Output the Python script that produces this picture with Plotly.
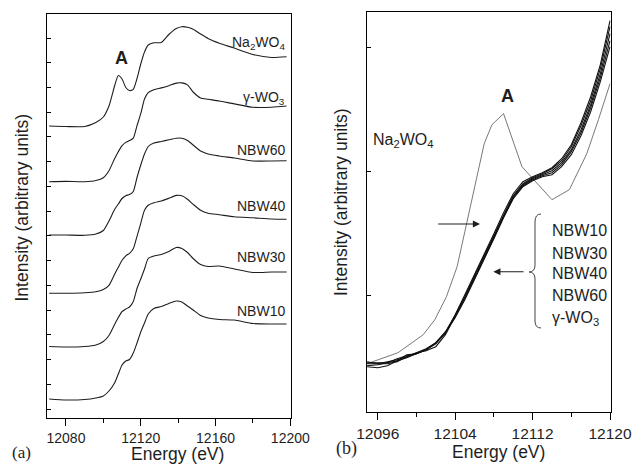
import plotly.graph_objects as go

# ---------------- Panel (a): stacked W L3-edge XANES spectra ----------------
ENERGY_A = [12071, 12080, 12090, 12096, 12100, 12103, 12106, 12108, 12110, 12112,
            12114, 12116, 12118, 12120, 12122, 12124, 12127, 12131, 12135, 12139,
            12142, 12145, 12148, 12152, 12156, 12162, 12170, 12180, 12190, 12198]

NA2WO4_A = [0, -0.5, -0.5, 3.5, 9, 20, 40, 50.5, 47, 38.5,
            35.5, 36.7, 47.5, 62, 74, 81, 83.2, 83.5, 91.5, 97.5,
            99.3, 98.8, 96.8, 92, 87.5, 82.8, 77.9, 71.5, 68.5, 69.3]
GWO3_A = [0, 0.3, 0, 1.2, 4, 11, 23, 30, 36, 39.3,
          41.2, 43.5, 56, 68, 82.7, 89, 92, 93.8, 96, 98.6,
          98.8, 96.8, 89.7, 83.8, 82.5, 80.7, 77.8, 74.4, 74.5, 75.7]
NBW60_A = [0, 0, -0.3, 1, 4.5, 14, 25.5, 31, 36.5, 39.3,
           40.5, 43.5, 57.5, 70, 81, 88.5, 92, 93.5, 95.2, 96.8,
           96.8, 94.5, 90, 84, 81, 79, 77, 74, 74, 74.3]
NBW40_A = [0, 0, 0.5, 1.5, 3.8, 8, 19, 26, 33, 37.5,
           40, 44.5, 57, 70, 83, 88, 90.5, 92.3, 95, 97.9,
           97.5, 94, 89, 83, 80, 78.6, 76.5, 75.5, 74.3, 74]
NBW30_A = [0, -0.5, 0, 1.5, 5, 11, 22, 29, 35, 37.5,
           39.5, 45, 58, 67.5, 77.5, 88, 90.5, 92, 95, 99,
           98, 94, 88, 82, 80, 80.5, 77.5, 74, 74.5, 74.5]
NBW10_A = [0, -1, -0.5, 1, 3, 8, 16, 25, 34, 38,
           39.5, 46, 56, 67, 76, 85, 90.5, 92.5, 95.5, 98,
           97, 93, 89, 83.5, 81, 79.5, 79, 75.5, 75, 75]

SERIES_A = [NA2WO4_A, GWO3_A, NBW60_A, NBW40_A, NBW30_A, NBW10_A]
NAMES_A = ["Na<sub>2</sub>WO<sub>4</sub>", "\u03b3-WO<sub>3</sub>", "NBW60", "NBW40", "NBW30", "NBW10"]
OFFSETS_A = [292.3, 236.6, 183.3, 125.0, 71.8, 19.3]

# ---------------- Panel (b): pre-edge region, curves overlaid ----------------
ENERGY_NA_B = [12094.9, 12096.8, 12098.1, 12100.7, 12101.9, 12103.1, 12104.2, 12105.0,
               12106.0, 12107.0, 12107.8, 12109.0, 12110.9, 12114.0, 12115.8, 12117.6,
               12118.8, 12120.0]
NA2WO4_B = [55, 62, 66, 84, 99, 122, 152, 187, 231, 275, 294, 305, 252, 219, 229, 265, 299, 335]

ENERGY_B = [12094.9, 12096, 12097, 12098, 12099, 12100, 12101, 12102, 12103, 12104,
            12105, 12106, 12107, 12108, 12109, 12110, 12111, 12112, 12113, 12114,
            12115, 12116, 12117, 12118, 12119, 12120]
NBW10_B = [53, 54, 56, 60, 63, 65, 69, 75, 86, 104, 124, 144, 164, 185, 206, 225, 237, 242, 246, 251, 260, 274, 296, 322, 354, 398]
NBW30_B = [55, 55, 57, 59, 62, 66, 70, 76, 87, 103, 122, 143, 163, 183, 204, 223, 235, 241, 245, 250, 258, 272, 293, 318, 350, 392]
NBW40_B = [56, 56, 56, 58, 61, 65, 69, 75, 86, 103, 121, 141, 161, 182, 203, 222, 234, 240, 244, 248, 256, 269, 289, 314, 345, 385]
NBW60_B = [57, 55, 55, 57, 62, 66, 68, 72, 84, 102, 121, 140, 160, 181, 202, 221, 233, 239, 243, 246, 254, 267, 286, 311, 341, 378]
GWO3_B = [52, 51, 53, 58, 64, 65, 69, 76, 86, 101, 119, 139, 159, 180, 201, 220, 232, 238, 242, 244, 252, 264, 283, 307, 337, 372]
SERIES_B = [NBW10_B, NBW30_B, NBW40_B, NBW60_B, GWO3_B]
NAMES_B = ["NBW10", "NBW30", "NBW40", "NBW60", "\u03b3-WO<sub>3</sub>"]

W, H = 634, 471
SANS = "Liberation Sans, Arial, sans-serif"
SERIF = "Liberation Serif, Times New Roman, serif"
INK = "#1e1e1e"


def P(px, py):
    """Pixel position on the page -> paper coordinates."""
    return px / W, 1 - py / H


fig = go.Figure()

for vals, off in zip(SERIES_A, OFFSETS_A):
    fig.add_trace(go.Scatter(
        x=ENERGY_A, y=[v + off for v in vals], mode="lines",
        line=dict(color=INK, width=1.1, shape="spline", smoothing=0.6),
        xaxis="x", yaxis="y", showlegend=False, hoverinfo="skip"))

fig.add_trace(go.Scatter(
    x=ENERGY_NA_B, y=NA2WO4_B, mode="lines",
    line=dict(color="#555555", width=0.8),
    xaxis="x2", yaxis="y2", showlegend=False, hoverinfo="skip"))
for vals in SERIES_B:
    fig.add_trace(go.Scatter(
        x=ENERGY_B, y=vals, mode="lines",
        line=dict(color="#111111", width=1.1),
        xaxis="x2", yaxis="y2", showlegend=False, hoverinfo="skip"))

axis_common = dict(showline=True, linecolor="black", linewidth=1, mirror=True,
                   showgrid=False, zeroline=False, automargin=False)

fig.update_layout(
    template="none",
    width=W, height=H, margin=dict(l=0, r=0, t=0, b=0, pad=0),
    paper_bgcolor="white", plot_bgcolor="white", showlegend=False,
    font=dict(family=SANS, color=INK),
    xaxis=dict(domain=[46.7 / W, 290.7 / W], range=[12069.7, 12200.2], anchor="y",
               tick0=12080, dtick=40, tickformat="d", ticks="outside", ticklen=7, tickcolor="black",
               minor=dict(ticks="outside", ticklen=4, dtick=20, tick0=12080, tickcolor="black"),
               tickfont=dict(size=14, family=SANS, color=INK), **axis_common),
    yaxis=dict(domain=[1 - 418.3 / H, 1 - 14.3 / H], range=[0, 404], anchor="x",
               tick0=9.3, dtick=24.73, ticks="inside", ticklen=4, tickcolor="black",
               showticklabels=False, **axis_common),
    xaxis2=dict(domain=[366.7 / W, 610.7 / W], range=[12094.86, 12120.07], anchor="y2",
                tick0=12096, dtick=8, tickformat="d", ticks="outside", ticklen=7, tickcolor="black",
                minor=dict(ticks="outside", ticklen=4, dtick=4, tick0=12096, tickcolor="black"),
                tickfont=dict(size=15.5, family=SANS, color=INK), **axis_common),
    yaxis2=dict(domain=[1 - 412.3 / H, 1 - 11.7 / H], range=[6.4, 407], anchor="x2",
                tick0=0, dtick=123.7, ticks="inside", ticklen=4, tickcolor="black",
                showticklabels=False, **axis_common),
)

ann = []


def text(px, py, s, size, xanchor="center", family=SANS, angle=0, bold=False):
    x, y = P(px, py)
    ann.append(dict(x=x, y=y, xref="paper", yref="paper", text=f"<b>{s}</b>" if bold else s,
                    showarrow=False, xanchor=xanchor, yanchor="middle", textangle=angle,
                    font=dict(size=size, family=family, color=INK)))


# axis titles
text(21, 207.5, "Intensity (arbitrary units)", 17.5, angle=-90)
text(178, 454, "Energy (eV)", 17.5)
text(341, 202, "Intensity (arbitrary units)", 17.5, angle=-90)
text(498.7, 451.7, "Energy (eV)", 17.5)
text(21, 452, "(a)", 17, family=SERIF)
text(346.5, 448.5, "(b)", 18, family=SERIF)

# panel (a) curve labels
for name, py in zip(NAMES_A, [43, 98, 150, 205.5, 257, 311]):
    text(287, py, name, 14, xanchor="right")
text(121, 58, "A", 18, bold=True)

# panel (b) labels
text(507.5, 95.5, "A", 18, bold=True)
text(371, 141, NAMES_A[0], 16, xanchor="left")
for name, py in zip(NAMES_B, [230, 253, 273, 295, 318]):
    text(550, py, name, 16, xanchor="left")

# arrows in panel (b)
for (hx, hy, dx) in [(480, 224, -43.3), (493.3, 271.7, 31.7)]:
    x, y = P(hx, hy)
    ann.append(dict(x=x, y=y, xref="paper", yref="paper", ax=dx, ay=0,
                    axref="pixel", ayref="pixel", showarrow=True, arrowhead=2,
                    arrowsize=1.3, arrowwidth=1.1, arrowcolor=INK, text=""))

fig.update_layout(annotations=ann)

# curly brace grouping the labels
pts = [("M", [(541, 214)]), ("Q", [(535, 214), (535, 222)]), ("L", [(535, 265)]),
       ("Q", [(535, 272), (529, 272)]), ("Q", [(535, 272), (535, 279)]),
       ("L", [(535, 321)]), ("Q", [(535, 328), (541, 328)])]
path = ""
for cmd, coords in pts:
    path += cmd + " ".join(f"{P(a, b)[0]:.5f},{P(a, b)[1]:.5f}" for a, b in coords) + " "
fig.add_shape(type="path", path=path.strip(), xref="paper", yref="paper",
              line=dict(color="#444444", width=1))

fig.write_html("out.html")
